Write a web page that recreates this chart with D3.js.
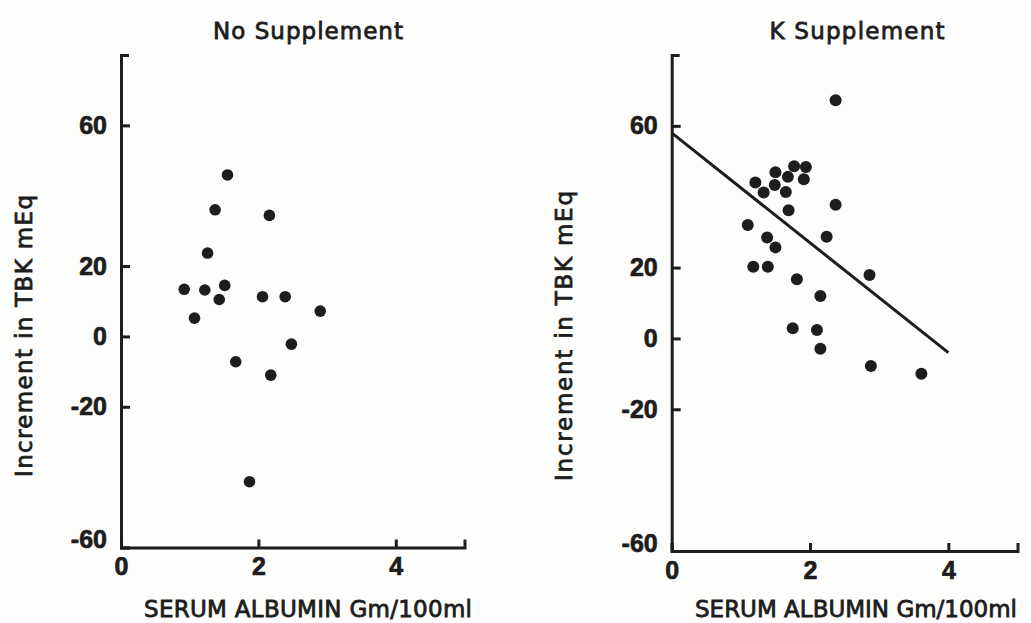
<!DOCTYPE html>
<html>
<head>
<meta charset="utf-8">
<script src="https://cdn.jsdelivr.net/npm/d3@7"></script>
<style>
  body { margin: 0; background: #fdfdfc; }
  svg { display: block; }
  .axis { color: #1d1d1d; }
  .axis path, .axis line { stroke-width: 3; }
  .axis text {
    font-family: "Liberation Sans", Arial, sans-serif;
    font-weight: bold;
    font-size: 25px;
    stroke: #1d1d1d;
    stroke-width: 0.7;
  }
  .label {
    font-family: "DejaVu Sans", sans-serif;
    font-size: 23px;
    fill: #1d1d1d;
    stroke: #1d1d1d;
    stroke-width: 0.8;
  }
  .dot { fill: #1d1d1d; }
  .fit { stroke: #1d1d1d; stroke-width: 3; fill: none; }
</style>
</head>
<body>
<div id="chart"></div>
<script>
// axis setup shared by both panels
const xDomain = [0, 5]
const yDomain = [-60, 80]
const xTicks = [0, 2, 4]
const yTicks = [60, 20, 0, -20, -60]

// no supplement group
const noSuppAlbumin = [1.55, 1.37, 2.16, 1.26, 0.92, 1.22, 1.51, 1.43, 2.06, 2.39, 1.07, 2.90, 2.48, 1.67, 2.18, 1.87]
const noSuppIncrement = [45.9, 36.0, 34.4, 23.7, 13.4, 13.2, 14.5, 10.5, 11.3, 11.3, 5.2, 7.2, -2.2, -7.2, -11.0, -41.3]

// K supplement group
const kSuppAlbumin = [2.37, 1.94, 1.77, 1.50, 1.68, 1.91, 1.21, 1.49, 1.33, 1.65, 1.69, 2.37, 1.10, 1.38, 1.50, 2.24, 1.18, 1.39, 1.81, 2.86, 2.15, 1.75, 2.10, 2.15, 2.88, 3.61]
const kSuppIncrement = [67.2, 48.4, 48.6, 46.9, 45.6, 44.9, 44.0, 43.3, 41.2, 41.3, 36.2, 37.7, 32.0, 28.5, 25.7, 28.7, 20.2, 20.2, 16.7, 17.9, 12.0, 2.9, 2.4, -2.9, -7.8, -10.0]

// regression line drawn for K supplement group
const kFitAlbumin = [0, 4]
const kFitIncrement = [58, -4]

const svg = d3.select("#chart")
  .append("svg")
    .attr("width", 1031)
    .attr("height", 623)

/**
 * One scatter panel: axes, titles, dots and an optional fit line
 */
class ScatterPanel {
  constructor(svg, opts) {
    this.svg = svg
    this.opts = opts
    this.bounds = svg.append("g")
    this.setScales()
    this.drawAxes()
    this.drawLabels()
    this.drawPoints()
    if (opts.fit) this.drawFit()
  }

  setScales() {
    this.xScale = d3.scaleLinear().domain(xDomain).range(this.opts.xRange)
    this.yScale = d3.scaleLinear().domain(yDomain).range(this.opts.yRange)
  }

  drawAxes() {
    const x0 = this.opts.xRange[0]
    const yBottom = this.opts.yRange[0]

    // plain hyphen for negatives, like the original typesetting
    const yAxis = d3.axisLeft(this.yScale)
      .tickValues(yTicks)
      .tickSizeInner(-9)
      .tickSizeOuter(-8)
      .tickPadding(14)
      .tickFormat(d => String(d))

    const yG = this.bounds.append("g")
      .attr("class", "axis")
      .attr("transform", `translate(${x0},0)`)
      .call(yAxis)

    // bottom label sits a little above the corner
    yG.selectAll(".tick text")
      .filter(d => d === yDomain[0])
      .attr("dy", "0em")

    const xAxis = d3.axisBottom(this.xScale)
      .tickValues(xTicks)
      .tickSizeInner(-8)
      .tickSizeOuter(-8)
      .tickPadding(10)
      .tickFormat(d => String(d))

    this.bounds.append("g")
      .attr("class", "axis")
      .attr("transform", `translate(0,${yBottom})`)
      .call(xAxis)
  }

  drawLabels() {
    const o = this.opts
    this.bounds.append("text")
      .attr("class", "label")
      .attr("x", o.titleX)
      .attr("y", 39)
      .attr("text-anchor", "middle")
      .attr("textLength", o.titleLength)
      .attr("lengthAdjust", "spacing")
      .text(o.title)

    this.bounds.append("text")
      .attr("class", "label")
      .attr("transform", `translate(${o.yLabelX},336) rotate(-90)`)
      .attr("text-anchor", "middle")
      .attr("textLength", o.yLabelLength)
      .attr("lengthAdjust", "spacing")
      .text("Increment in TBK mEq")

    this.bounds.append("text")
      .attr("class", "label")
      .attr("x", o.xLabelX)
      .attr("y", 617)
      .attr("text-anchor", "middle")
      .attr("textLength", o.xLabelLength)
      .attr("lengthAdjust", "spacing")
      .text("SERUM ALBUMIN Gm/100ml")
  }

  drawPoints() {
    const o = this.opts
    this.bounds.selectAll(".dot")
      .data(o.xs)
      .enter().append("circle")
      .attr("class", "dot")
      .attr("cx", d => this.xScale(d))
      .attr("cy", (d, i) => this.yScale(o.ys[i]))
      .attr("r", o.radius)
  }

  drawFit() {
    const fit = this.opts.fit
    const line = d3.line()
      .x(d => this.xScale(d))
      .y((d, i) => this.yScale(fit.ys[i]))
    this.bounds.append("path")
      .attr("class", "fit")
      .attr("d", line(fit.xs))
  }
}

new ScatterPanel(svg, {
  title: "No Supplement",
  titleX: 308,
  titleLength: 190,
  xRange: [121, 464.5],
  yRange: [547.5, 55],
  yLabelX: 32,
  yLabelLength: 282,
  xLabelX: 308,
  xLabelLength: 328,
  xs: noSuppAlbumin,
  ys: noSuppIncrement,
  radius: 5.8
})

new ScatterPanel(svg, {
  title: "K Supplement",
  titleX: 857,
  titleLength: 175,
  xRange: [671.7, 1017.5],
  yRange: [551, 55],
  yLabelX: 572,
  yLabelLength: 290,
  xLabelX: 856,
  xLabelLength: 322,
  xs: kSuppAlbumin,
  ys: kSuppIncrement,
  radius: 6,
  fit: { xs: kFitAlbumin, ys: kFitIncrement }
})
</script>
</body>
</html>
